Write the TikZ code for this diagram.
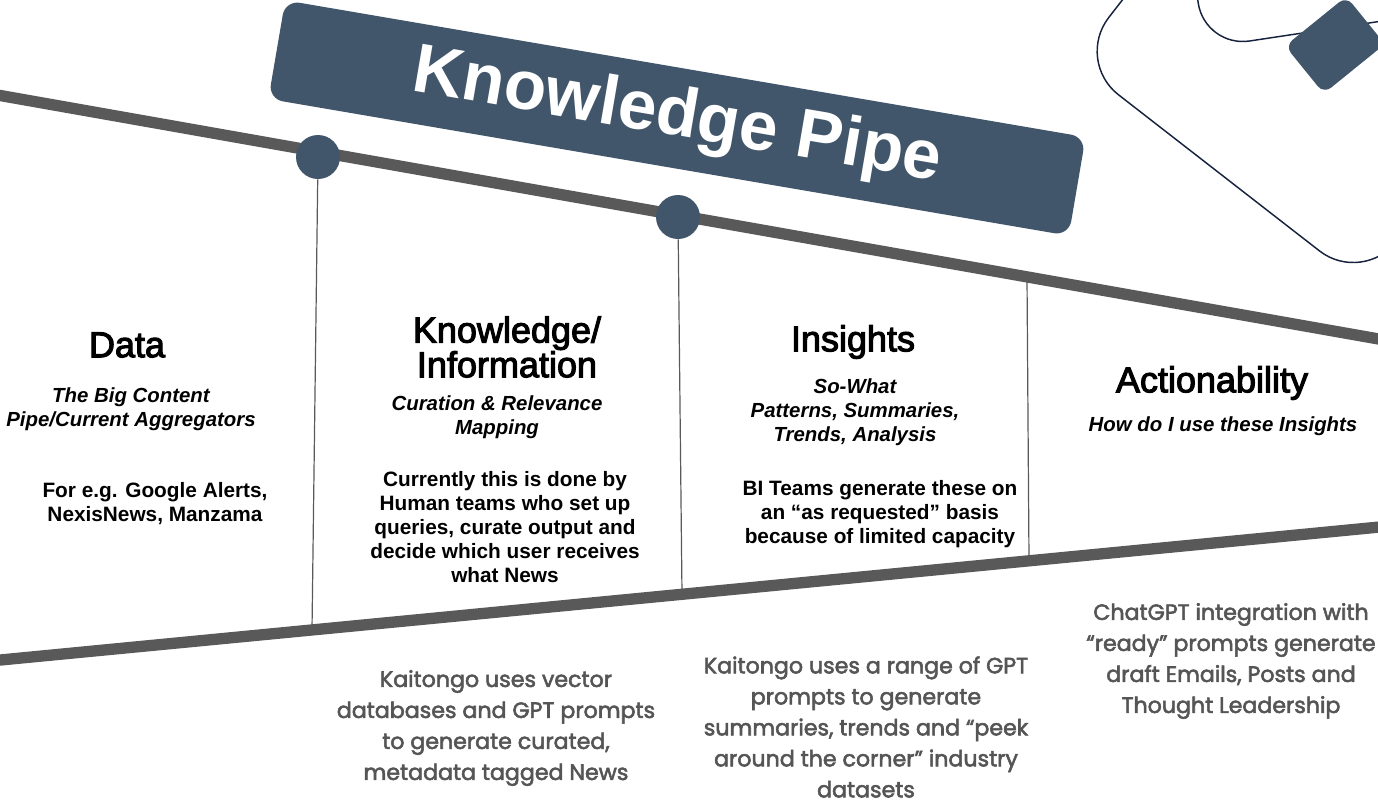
\documentclass[tikz,border=0pt]{standalone}
\usepackage{fontspec}
\setmainfont{Liberation Sans}
\newfontfamily\headfont{Liberation Sans}[FakeBold=3]
\newfontfamily\notefont{Poppins}[FakeBold=2.5]
\usepackage{tikz}
\usetikzlibrary{
    arrows.meta,
    positioning,
    calc
}
\definecolor{slate}{RGB}{65, 86, 106}
\definecolor{pipegray}{RGB}{89, 89, 89}
\definecolor{navyline}{RGB}{22, 34, 62}
\definecolor{notegray}{RGB}{85, 85, 85}
\tikzstyle{pipe} = [
    draw=pipegray,
    line width=8.5pt
]
\tikzstyle{divider} = [
    draw=pipegray,
    line width=0.9pt
]
\tikzstyle{deco} = [
    draw=navyline,
    line width=1.1pt
]

\begin{document}
\begin{tikzpicture}[
    x=0.75pt, y=-0.75pt,
    banner/.style={rectangle, rounded corners=11pt, fill=slate, text=white, minimum width=609pt, minimum height=75pt, font=\bfseries\fontsize{52}{52}\selectfont},
    tile/.style={rectangle, rounded corners=7pt, fill=slate, minimum width=59pt, minimum height=46pt},
    joint/.style={circle, fill=slate, minimum size=33pt, inner sep=0pt},
    head/.style={font=\headfont\fontsize{27}{26}\selectfont, align=center, inner sep=0pt},
    sub/.style={font=\bfseries\itshape\fontsize{15.3}{18}\selectfont, align=center, inner sep=0pt},
    body/.style={font=\bfseries\fontsize{15.6}{18}\selectfont, align=center, inner sep=0pt},
    note/.style={font=\notefont\fontsize{16.6}{23.25}\selectfont, text=notegray, align=center, inner sep=0pt}
]
    \useasboundingbox (0,0) rectangle (1378,801);
    \clip (0,0) rectangle (1378,801);

    % Corner decoration
    \draw[deco, rounded corners=41.25pt] (1197.6,-97) -- (1075,61) -- (1363,284.7) -- (1547,47);
    \draw[deco, rounded corners=33.75pt] (1175,-150) -- (1205,47.7) -- (1452,10.5);
    \node[tile, rotate=39] (tile) at (1335,45) {};

    % Title
    \node[banner, rotate=-9.7] (title) at (677,118) {Knowledge Pipe};

    % Pipe walls
    \coordinate (tl) at (-10,93.7);
    \coordinate (tr) at (1390,341);
    \coordinate (bl) at (-10,661);
    \coordinate (br) at (1390,526);
    \draw[pipe] (tl) -- (tr);
    \draw[pipe] (bl) -- (br);

    % Joints and dividers
    \node[joint] (c1) at (318,157) {};
    \node[joint] (c2) at (678,217) {};
    \coordinate (b1) at (312,630);
    \coordinate (b2) at (682,594);
    \coordinate (t3) at (1027,278);
    \coordinate (b3) at (1029,560);
    \draw[divider] (c1) -- (b1);
    \draw[divider] (c2) -- (b2);
    \draw[divider] (t3) -- (b3);

    % Data
    \node[head] (data) at (127,345) {Data};
    \node[sub] (datasub) at (131,409) {The Big Content\\Pipe/Current Aggregators};
    \node[body] (dataex) at (155,504) {For e.g. Google Alerts,\\NexisNews, Manzama};

    % Knowledge
    \node[head] (know) at (507,347) {Knowledge/\\Information};
    \node[sub] (knowsub) at (497,417) {Curation \& Relevance\\Mapping};
    \node[body] (knowtxt) at (505,527) {Currently this is done by\\Human teams who set up\\queries, curate output and\\decide which user receives\\what News};

    % Insights
    \node[head] (ins) at (853,342) {Insights};
    \node[sub] (inssub) at (855,412) {So-What\\Patterns, Summaries,\\Trends, Analysis};
    \node[body] (instxt) at (880,514) {BI Teams generate these on\\an “as requested” basis\\because of limited capacity};

    % Actionability
    \node[head] (act) at (1212,383) {Actionability};
    \node[sub] (actsub) at (1223,426) {How do I use these Insights};

    % Kaitongo notes
    \node[note] (kg1) at (496,728) {Kaitongo uses vector\\databases and GPT prompts\\to generate curated,\\metadata tagged News};
    \node[note] (kg2) at (866,727) {Kaitongo uses a range of GPT\\prompts to generate\\summaries, trends and “peek\\around the corner” industry\\datasets};
    \node[note] (kg3) at (1231,661) {ChatGPT integration with\\“ready” prompts generate\\draft Emails, Posts and\\Thought Leadership};

\end{tikzpicture}
\end{document}
